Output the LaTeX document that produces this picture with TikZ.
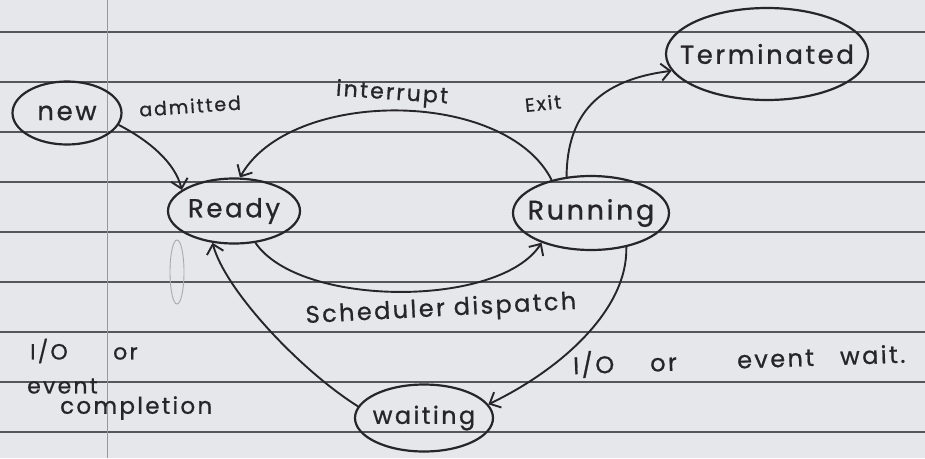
\documentclass[tikz,border=0pt]{standalone}
\usepackage{fontspec}
\setmainfont{Poppins}[LetterSpace=10, FakeBold=0.8]
\usetikzlibrary{shapes.geometric,arrows.meta}
\definecolor{paper}{HTML}{E6E7EB}
\definecolor{rule}{HTML}{55565A}
\definecolor{ink}{HTML}{26262A}
\tikzset{
  state/.style={ellipse, draw=ink, line width=2.2pt, inner sep=0pt, text=ink},
  edge/.style={draw=ink, line width=1.9pt,
    -{Straight Barb[length=9pt,width=17pt,line width=1.9pt]}},
  lbl/.style={text=ink, inner sep=0pt},
}
% handwriting size; \cbox keeps a state's text from widening its ellipse
\newcommand{\hw}[1]{\fontsize{#1}{#1}\selectfont}
\newcommand{\cbox}[1]{\makebox[0pt]{#1}}
\begin{document}
\begin{tikzpicture}[x=1pt,y=-1pt]
\useasboundingbox (0,0) rectangle (925,458);
% ruled notebook page
\fill[paper] (0,0) rectangle (925,458);
\foreach \yy in {32,82,...,432}
  \draw[rule, line width=1.3pt] (0,\yy) -- (925,\yy);
\draw[gray!75!paper, line width=0.9pt] (107,0) -- (107,458);
% stray pencil mark
\draw[gray!60!paper, line width=0.9pt] (177,272) ellipse [x radius=7pt, y radius=32pt];

% process states
\node[state, minimum width=109pt, minimum height=63pt] (new) at (67,113) {\cbox{\hw{26}new}};
\node[state, minimum width=132pt, minimum height=65pt] (ready) at (234,211) {\cbox{\hw{26}Ready}};
\node[state, minimum width=156pt, minimum height=74pt] (running) at (591,213) {\cbox{\hw{27}Running}};
\node[state, minimum width=202pt, minimum height=92pt] (terminated) at (767,54) {\cbox{\hw{26}Terminated}};
\node[state, minimum width=138pt, minimum height=67pt] (waiting) at (424,418) {\cbox{\hw{24}waiting}};

% transitions
\draw[edge] (new.-13) .. controls (148,140) and (175,162) .. (ready.158);
\draw[edge] (running.140) .. controls (505,88) and (290,88) .. (ready.80);
\draw[edge] (ready.-56) .. controls (300,308) and (500,308) .. (running.211);
\draw[edge] (running.124) .. controls (567,115) and (598,80) .. (terminated.190);
\draw[edge] (running.-44) .. controls (628,310) and (560,370) .. (waiting.12);
\draw[edge] (waiting.170) .. controls (300,370) and (225,290) .. (ready.236);

% transition labels
\node[lbl, rotate=4] (ladm) at (190,106) {\hw{19}admitted};
\node[lbl, rotate=-4] (lint) at (392,94) {\hw{22}interrupt};
\node[lbl, rotate=6] (lexit) at (543,103) {\hw{19}Exit};
\node[lbl, rotate=3] (lsch) at (441,310) {\hw{24}Scheduler dispatch};
\node[lbl, rotate=2, anchor=west] (lwait) at (573,365)
  {\hw{24}\makebox[77pt][l]{I/O}\makebox[87pt][l]{or}\makebox[103pt][l]{event}wait.};
\node[lbl, anchor=west] (lio1) at (30,351) {\hw{22}\makebox[83pt][l]{I/O}or};
\node[lbl, anchor=west] (lio2) at (27,386) {\hw{22}event};
\node[lbl, anchor=west] (lio3) at (60,408) {\hw{23}completion};
\end{tikzpicture}
\end{document}
